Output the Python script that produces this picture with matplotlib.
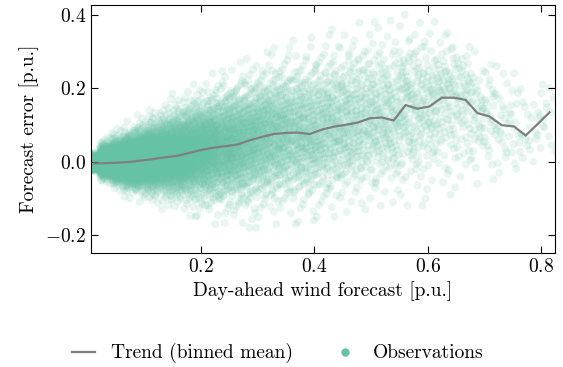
import numpy as np
import matplotlib
matplotlib.use("Agg")
import matplotlib.pyplot as plt
from matplotlib.lines import Line2D

plt.rcParams['font.family'] = 'serif'
plt.rcParams['font.serif'] = ['cmr10']
plt.rcParams['mathtext.fontset'] = 'cm'
plt.rcParams['axes.formatter.use_mathtext'] = True
plt.rcParams['font.size'] = 14

# bin centres of the day-ahead forecast [p.u.]
bin_x = [0.011, 0.032, 0.053, 0.074, 0.095, 0.116, 0.138, 0.159, 0.180, 0.201,
         0.222, 0.244, 0.265, 0.286, 0.307, 0.328, 0.349, 0.371, 0.392, 0.413,
         0.434, 0.455, 0.476, 0.498, 0.519, 0.540, 0.561, 0.582, 0.603, 0.625,
         0.646, 0.667, 0.688, 0.709, 0.731, 0.752, 0.773, 0.794, 0.815]
# binned mean of the forecast error
trend = [-0.005, -0.004, -0.003, -0.001, 0.003, 0.007, 0.012, 0.016, 0.024, 0.032,
         0.038, 0.042, 0.047, 0.058, 0.067, 0.075, 0.078, 0.079, 0.075, 0.087,
         0.095, 0.100, 0.106, 0.118, 0.120, 0.112, 0.154, 0.144, 0.150, 0.174,
         0.174, 0.168, 0.132, 0.123, 0.099, 0.096, 0.071, 0.102, 0.134]
# observations per bin and visible upper / lower edge of the cloud
counts = [700, 660, 620, 570, 520, 470, 430, 390, 350, 320,
          290, 260, 235, 210, 190, 172, 158, 145, 133, 122,
          112, 104, 96, 88, 81, 75, 70, 66, 62, 57,
          50, 42, 34, 27, 21, 17, 14, 12, 10]
upper = [0.03, 0.07, 0.09, 0.11, 0.13, 0.15, 0.17, 0.19, 0.21, 0.22,
         0.24, 0.26, 0.27, 0.28, 0.30, 0.31, 0.32, 0.33, 0.34, 0.35,
         0.36, 0.37, 0.38, 0.38, 0.39, 0.39, 0.40, 0.39, 0.38, 0.36,
         0.35, 0.33, 0.30, 0.28, 0.26, 0.24, 0.22, 0.21, 0.20]
lower = [-0.03, -0.06, -0.08, -0.10, -0.11, -0.12, -0.13, -0.14, -0.15, -0.16,
         -0.17, -0.17, -0.18, -0.18, -0.18, -0.18, -0.17, -0.17, -0.16, -0.16,
         -0.15, -0.15, -0.14, -0.13, -0.12, -0.12, -0.12, -0.12, -0.11, -0.10,
         -0.09, -0.08, -0.06, -0.05, -0.04, -0.02, -0.01, 0.00, 0.02]
bin_width = 0.0212


def vdc(k, base):
    # van der Corput sequence, deterministic spread in (0, 1)
    out = np.zeros(len(k))
    f = 1.0 / base
    k = k.copy()
    while np.any(k > 0):
        out += f * (k % base)
        k //= base
        f /= base
    return out


def norm_q(p):
    # approximate normal quantile
    p = np.asarray(p, dtype=float)
    return np.where(p >= 0.5,
                    5.5556 * (1 - ((1 - p) / p) ** 0.1186),
                    -5.5556 * (1 - (p / (1 - p)) ** 0.1186))


xs, ys = [], []
start = 1
for c, m, n, up, lo in zip(bin_x, trend, counts, upper, lower):
    k = np.arange(start, start + n)
    start += n
    u = np.clip(vdc(k, 3), 0.5 / n, 1 - 0.5 / n)
    z = norm_q(u)
    zmax = norm_q(1 - 0.5 / n)
    s = np.where(z > 0, (up - m) / zmax, (m - lo) / zmax)
    xs.append(np.clip(c + bin_width * (vdc(k, 5) - 0.5), 0.003, None))
    ys.append(m + s * z)
xs = np.concatenate(xs)
ys = np.concatenate(ys)

fig = plt.figure(figsize=(5.63, 3.67), dpi=100)
ax = fig.add_axes([0.161, 0.3115, 0.824, 0.6755])

ax.scatter(xs, ys, s=33, color='#66c2a5', alpha=0.15, edgecolors='none', zorder=1)
ax.plot(bin_x, trend, color='#7f7f7f', lw=1.6, zorder=3)

ax.set_xlim(0.005, 0.824)
ax.set_ylim(-0.248, 0.427)
ax.set_xticks([0.2, 0.4, 0.6, 0.8])
ax.set_yticks([-0.2, 0.0, 0.2, 0.4])
ax.tick_params(direction='in', top=True, right=True, length=5, width=0.8)
for sp in ax.spines.values():
    sp.set_linewidth(0.8)
ax.set_xlabel('Day-ahead wind forecast [p.u.]')
ax.set_ylabel('Forecast error [p.u.]')

handles = [Line2D([], [], color='#7f7f7f', lw=1.6),
           Line2D([], [], marker='o', ls='', color='#66c2a5', markersize=5)]
fig.legend(handles, ['Trend (binned mean)', 'Observations'], loc='lower center',
           bbox_to_anchor=(0.493, -0.038), ncol=2, frameon=False,
           handlelength=1.2, handletextpad=0.8, columnspacing=2.1)

fig.savefig('out.png', dpi=100)
